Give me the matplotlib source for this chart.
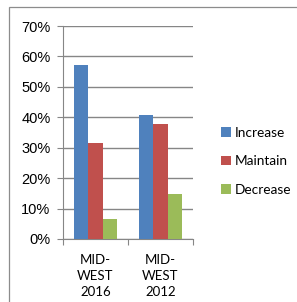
import matplotlib.pyplot as plt
from matplotlib.patches import Rectangle
import numpy as np

categories = ['MID-\nWEST\n2016', 'MID-\nWEST\n2012']
series = ['Increase', 'Maintain', 'Decrease']
increase = [57.2, 40.7]
maintain = [31.7, 37.8]
decrease = [6.6, 14.7]
colors = ['#4F81BD', '#C0504D', '#9BBB59']

fig = plt.figure(figsize=(2.97, 3.02), dpi=100)
# outer chart frame (only left/top edges visible)
fig.patches.append(Rectangle((9/297, -0.1), 1.2, 1 - 7/302 + 0.1, transform=fig.transFigure,
                             fill=False, edgecolor='#8c8c8c', linewidth=0.9))

ax = fig.add_axes([63/297, 1 - 239/302, 130/297, 213/302])
x = np.arange(len(categories))
w = 0.22
for i, (name, vals) in enumerate(zip(series, [increase, maintain, decrease])):
    ax.bar(x + (i - 1) * w, vals, w, color=colors[i], label=name, zorder=3)

ax.set_xlim(-0.5, 1.5)
ax.set_ylim(0, 70)
ax.set_yticks(range(0, 71, 10))
ax.set_yticklabels([f'{v}%' for v in range(0, 71, 10)], family='Liberation Sans', fontsize=10.5)
ax.yaxis.grid(True, color='#868686', linewidth=1, zorder=0)
ax.set_xticks([-0.5, 0.5, 1.5])
ax.set_xticklabels([])
ax.set_xticks(x, minor=True)
ax.set_xticklabels(categories, minor=True, family='Lato', fontsize=9.5, linespacing=1.4)
ax.tick_params(axis='x', which='minor', length=0, pad=11)
ax.tick_params(axis='x', which='major', length=4, color='#868686')
ax.tick_params(axis='y', length=4, color='#868686', pad=5)
for s in ['top', 'right']:
    ax.spines[s].set_visible(False)
for s in ['left', 'bottom']:
    ax.spines[s].set_color('#868686')

ax.legend(loc='center left', bbox_to_anchor=(1.12, 0.365), frameon=False,
          prop={'family': 'Lato', 'size': 9.8}, handlelength=0.75, handleheight=0.75,
          handletextpad=0.3, labelspacing=1.2)

fig.savefig('out.png', dpi=100)
